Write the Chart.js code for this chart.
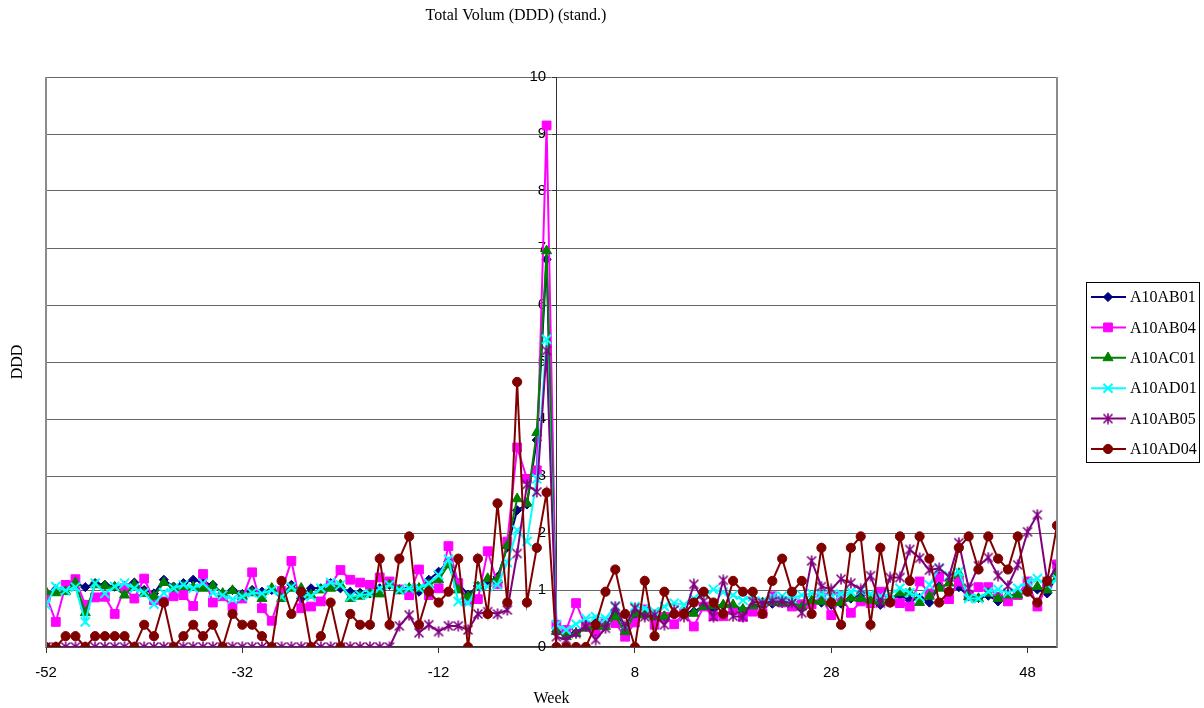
<!DOCTYPE html>
<html>
<head>
<meta charset="utf-8">
<title>Total Volum (DDD) (stand.)</title>
<script src="https://cdn.jsdelivr.net/npm/chart.js@4/dist/chart.umd.min.js"></script>
<style>
  html, body { margin: 0; padding: 0; background: #ffffff; }
  #wrap { width: 1204px; height: 708px; position: relative; }
</style>
</head>
<body>
<div id="wrap"><canvas id="chart" width="1204" height="708"></canvas></div>
<script>
// Weeks relative to the switch week (0)
const weeks = [-52,-51,-50,-49,-48,-47,-46,-45,-44,-43,-42,-41,-40,-39,-38,-37,-36,-35,-34,-33,
  -32,-31,-30,-29,-28,-27,-26,-25,-24,-23,-22,-21,-20,-19,-18,-17,-16,-15,-14,-13,
  -12,-11,-10,-9,-8,-7,-6,-5,-4,-3,-2,-1,0,1,2,3,4,5,6,7,
  8,9,10,11,12,13,14,15,16,17,18,19,20,21,22,23,24,25,26,27,
  28,29,30,31,32,33,34,35,36,37,38,39,40,41,42,43,44,45,46,47,
  48,49,50,51];

const xTickLabels = [-52, -32, -12, 8, 28, 48];
const yTickLabels = [0, 1, 2, 3, 4, 5, 6, 7, 8, 9, 10];

const seriesNames = ['A10AB01', 'A10AB04', 'A10AC01', 'A10AD01', 'A10AB05', 'A10AD04'];

const a10ab01 = [0.94,1.01,1.05,1.12,1.05,1.12,1.09,1.06,1.07,1.13,1.0,0.94,1.18,1.06,1.12,1.18,1.13,1.09,0.94,1.0,0.93,
  1.0,0.97,1.0,0.91,1.09,0.85,1.03,1.03,1.12,1.03,0.97,0.95,0.94,1.03,1.09,1.01,1.03,0.97,1.18,1.32,1.5,
  1.12,0.92,1.07,1.15,1.23,1.75,2.4,2.5,3.63,6.8,
  0.27,0.21,0.25,0.4,0.42,0.44,0.6,0.35,0.56,0.56,
  0.53,0.55,0.58,0.6,0.62,0.72,0.66,0.73,0.7,0.66,0.68,0.75,0.76,0.77,0.79,0.69,0.8,0.78,0.74,0.76,0.85,
  0.9,0.81,0.74,0.83,0.91,0.82,0.86,0.78,1.07,0.98,1.05,0.89,0.86,0.9,0.8,0.88,0.94,1.03,1.01,0.94,1.25];

const a10ab04 = [0.91,0.44,1.09,1.19,0.74,0.87,0.88,0.58,1.03,0.85,1.2,0.82,0.8,0.89,0.91,0.72,1.28,0.78,0.89,0.71,0.85,
  1.31,0.68,0.46,0.98,1.51,0.68,0.71,0.8,1.09,1.35,1.18,1.13,1.09,1.22,1.15,1.01,0.91,1.36,0.91,1.03,1.77,
  1.12,0.82,0.84,1.68,1.1,1.85,3.5,2.95,3.1,9.15,
  0.39,0.3,0.77,0.36,0.28,0.42,0.42,0.18,0.43,0.66,
  0.39,0.53,0.4,0.59,0.36,0.71,0.54,0.54,0.65,0.53,0.62,0.59,0.89,0.78,0.71,0.75,0.75,0.87,0.56,0.89,0.6,
  0.8,0.77,0.97,0.8,0.77,0.71,1.15,0.94,1.23,0.84,1.15,0.9,1.05,1.05,0.88,0.8,0.91,1.15,0.71,1.1,1.45];

const a10ac01 = [0.97,0.95,0.97,1.13,0.6,1.09,1.07,1.05,0.91,1.09,0.94,0.89,1.13,1.03,1.06,1.05,1.03,1.07,0.94,0.99,0.89,
  0.95,0.85,1.03,0.85,1.03,1.03,0.91,1.0,1.03,1.09,0.85,0.89,0.93,0.93,1.09,0.99,1.03,1.03,1.09,1.18,1.44,
  1.0,0.88,1.05,1.2,1.18,1.78,2.6,2.52,3.76,6.95,
  0.27,0.18,0.24,0.33,0.36,0.36,0.53,0.27,0.59,0.56,
  0.53,0.53,0.59,0.6,0.59,0.71,0.72,0.74,0.74,0.66,0.72,0.77,0.78,0.77,0.78,0.7,0.81,0.8,0.77,0.78,0.86,
  0.85,0.82,0.8,0.85,0.95,0.95,0.78,0.89,1.03,1.12,1.29,0.88,0.85,0.94,0.85,0.91,0.91,1.0,1.06,1.0,1.29];

const a10ad01 = [0.74,1.06,0.99,1.05,0.44,1.12,0.94,1.06,1.12,1.03,0.95,0.75,0.95,1.03,1.09,1.03,1.12,0.95,0.91,0.84,0.88,
  0.95,0.94,1.0,0.88,1.05,0.94,0.89,1.03,1.13,1.09,0.88,0.91,0.93,1.03,1.09,1.0,1.03,1.03,1.12,1.26,1.54,
  0.8,0.77,1.06,1.06,1.09,1.48,2.05,1.85,2.95,5.4,
  0.39,0.3,0.4,0.5,0.53,0.5,0.72,0.37,0.71,0.68,
  0.62,0.71,0.77,0.74,0.85,0.93,1.01,0.96,0.91,0.82,0.88,0.8,0.88,0.89,0.85,0.91,0.94,0.93,0.91,0.93,0.97,
  0.99,0.93,0.89,0.93,1.03,0.95,0.88,1.09,1.38,1.25,1.32,0.85,0.85,0.97,1.01,0.95,1.03,1.15,1.2,1.09,1.19];

const a10ab05 = [0,0,0,0,0,0,0,0,0,0,0,0,0,0,0,0,0,0,0,0,0,
  0,0,0,0,0,0,0,0,0,0,0,0,0,0,0,0.37,0.56,0.25,0.39,0.27,0.37,
  0.37,0.3,0.58,0.62,0.58,0.65,1.64,2.85,2.72,5.2,
  0.18,0.13,0.24,0.36,0.13,0.33,0.71,0.36,0.68,0.53,
  0.56,0.39,0.65,0.53,1.1,0.8,0.53,1.17,0.54,0.53,0.8,0.77,0.8,0.8,0.77,0.6,1.51,1.06,1.01,1.19,1.12,
  1.01,1.25,0.77,1.22,1.22,1.71,1.56,1.35,1.38,1.23,1.83,1.03,1.42,1.57,1.25,1.07,1.44,2.02,2.32,1.15,1.41];

const a10ad04 = [0,0,0.19,0.19,0,0.19,0.19,0.19,0.19,0,0.39,0.19,0.78,0,0.19,0.39,0.19,0.39,0,0.58,0.39,
  0.39,0.19,0,1.16,0.58,0.97,0,0.19,0.78,0,0.58,0.39,0.39,1.55,0.39,1.55,1.94,0.39,0.97,0.78,0.97,
  1.55,0,1.55,0.58,2.52,0.78,4.65,0.78,1.74,2.71,
  0,0,0,0,0.39,0.97,1.36,0.58,0,1.16,
  0.19,0.97,0.58,0.58,0.78,0.97,0.78,0.58,1.16,0.97,0.97,0.58,1.16,1.55,0.97,1.16,0.58,1.74,0.78,0.39,1.74,
  1.94,0.39,1.74,0.78,1.94,1.16,1.94,1.55,0.78,0.97,1.74,1.94,1.36,1.94,1.55,1.36,1.94,0.97,0.78,1.16,2.13];

const seriesValues = [a10ab01, a10ab04, a10ac01, a10ad01, a10ab05, a10ad04];
const seriesColors = ['#000080', '#FF00FF', '#008000', '#00FFFF', '#800080', '#800000'];

// Asterisk marker: an X with a vertical bar through it
function makeAsterisk(color) {
  const c = document.createElement('canvas');
  c.width = 12; c.height = 12;
  const g = c.getContext('2d');
  g.strokeStyle = color;
  g.lineWidth = 1.6;
  g.beginPath();
  g.moveTo(1.5, 1.5); g.lineTo(10.5, 10.5);
  g.moveTo(10.5, 1.5); g.lineTo(1.5, 10.5);
  g.moveTo(6, 0.5); g.lineTo(6, 11.5);
  g.stroke();
  return c;
}

const markerStyles = [
  { pointStyle: 'rectRot', radius: 4.6, borderWidth: 1 },
  { pointStyle: 'rect', radius: 6.2, borderWidth: 1 },
  { pointStyle: 'triangle', radius: 5.8, borderWidth: 1 },
  { pointStyle: 'crossRot', radius: 6.4, borderWidth: 2 },
  { pointStyle: makeAsterisk('#800080'), radius: 6, borderWidth: 1 },
  { pointStyle: 'circle', radius: 4.6, borderWidth: 1 }
];

const datasets = seriesNames.map((name, i) => ({
  label: name,
  data: weeks.map((w, j) => ({ x: w, y: seriesValues[i][j] })),
  yAxisID: 'y',
  borderColor: seriesColors[i],
  backgroundColor: seriesColors[i],
  borderWidth: 2,
  pointStyle: markerStyles[i].pointStyle,
  pointRadius: markerStyles[i].radius,
  pointBorderWidth: markerStyles[i].borderWidth,
  pointBackgroundColor: seriesColors[i],
  pointBorderColor: seriesColors[i],
  tension: 0,
  fill: false,
  // later series are drawn on top of earlier ones
  order: seriesNames.length - i
}));

const SERIF = '"Liberation Serif", "Times New Roman", serif';
const SANS = '"Liberation Sans", Arial, sans-serif';

// Titles, plot frame and the boxed legend
const decorations = {
  id: 'decorations',
  afterDraw(chart) {
    const ctx = chart.ctx;
    const area = chart.chartArea;
    ctx.save();

    // plot frame sides
    ctx.strokeStyle = '#8c8c8c';
    ctx.lineWidth = 2;
    ctx.beginPath();
    ctx.moveTo(area.left, area.top); ctx.lineTo(area.left, area.bottom);
    ctx.moveTo(area.right, area.top); ctx.lineTo(area.right, area.bottom);
    ctx.stroke();

    ctx.fillStyle = '#000';
    ctx.font = '16px ' + SERIF;
    ctx.textAlign = 'center';
    ctx.textBaseline = 'middle';
    ctx.fillText('Total Volum (DDD) (stand.)', 516, 16);
    ctx.fillText('Week', (area.left + area.right) / 2, 699);

    ctx.save();
    ctx.translate(18, (area.top + area.bottom) / 2);
    ctx.rotate(-Math.PI / 2);
    ctx.fillText('DDD', 0, 0);
    ctx.restore();

    // legend box
    const lx = 1086, ly = 282, lw = 113, lh = 180;
    ctx.fillStyle = '#fff';
    ctx.fillRect(lx, ly, lw, lh);
    ctx.strokeStyle = '#000';
    ctx.lineWidth = 1;
    ctx.strokeRect(lx + 0.5, ly + 0.5, lw, lh);

    ctx.textAlign = 'left';
    ctx.font = '16px ' + SERIF;
    seriesNames.forEach((name, i) => {
      const y = ly + 15 + i * 30.4;
      ctx.strokeStyle = seriesColors[i];
      ctx.lineWidth = 2;
      ctx.beginPath();
      ctx.moveTo(lx + 5, y); ctx.lineTo(lx + 40, y);
      ctx.stroke();
      ctx.fillStyle = seriesColors[i];
      ctx.strokeStyle = seriesColors[i];
      ctx.lineWidth = markerStyles[i].borderWidth;
      Chart.helpers.drawPoint(ctx, {
        pointStyle: markerStyles[i].pointStyle,
        radius: markerStyles[i].radius,
        rotation: 0,
        borderWidth: markerStyles[i].borderWidth
      }, lx + 22, y);
      ctx.fillStyle = '#000';
      ctx.fillText(name, lx + 44, y + 1);
    });
    ctx.restore();
  }
};

const yTickBuilder = scale => { scale.ticks = yTickLabels.map(v => ({ value: v })); };

new Chart(document.getElementById('chart'), {
  type: 'line',
  data: { datasets },
  plugins: [decorations],
  options: {
    responsive: false,
    animation: false,
    devicePixelRatio: 1,
    layout: { padding: { top: 77, left: 46, right: 147, bottom: 0 } },
    plugins: {
      legend: { display: false },
      title: { display: false },
      tooltip: { enabled: false }
    },
    scales: {
      x: {
        type: 'linear',
        min: weeks[0],
        max: weeks[weeks.length - 1],
        afterBuildTicks(scale) {
          scale.ticks = xTickLabels.map(v => ({ value: v }));
        },
        afterFit(scale) { scale.height = 61; },
        grid: {
          drawOnChartArea: false,
          drawTicks: true,
          tickLength: 6,
          tickColor: '#333',
          tickWidth: 1
        },
        border: { display: true, color: '#333', width: 1.5 },
        ticks: {
          autoSkip: false,
          maxRotation: 0,
          padding: 11,
          color: '#000',
          font: { family: SANS, size: 15 },
          callback: v => String(v)
        }
      },
      // value axis crossing the week axis at week 0: grid, axis line, tick marks
      y: {
        type: 'linear',
        position: { x: 0 },
        min: yTickLabels[0],
        max: yTickLabels[yTickLabels.length - 1],
        afterBuildTicks: yTickBuilder,
        grid: {
          color: '#666',
          lineWidth: 1,
          drawTicks: true,
          tickLength: 4,
          tickColor: '#333'
        },
        border: { display: true, color: '#333', width: 1 },
        ticks: { display: false }
      },
      // its tick labels, set just left of the axis line
      yLabels: {
        type: 'linear',
        position: { x: -1.05 },
        min: yTickLabels[0],
        max: yTickLabels[yTickLabels.length - 1],
        afterBuildTicks: yTickBuilder,
        grid: { display: false },
        border: { display: false },
        ticks: {
          color: '#000',
          font: { family: SANS, size: 15 },
          callback: v => String(v)
        }
      }
    }
  }
});
</script>
</body>
</html>
